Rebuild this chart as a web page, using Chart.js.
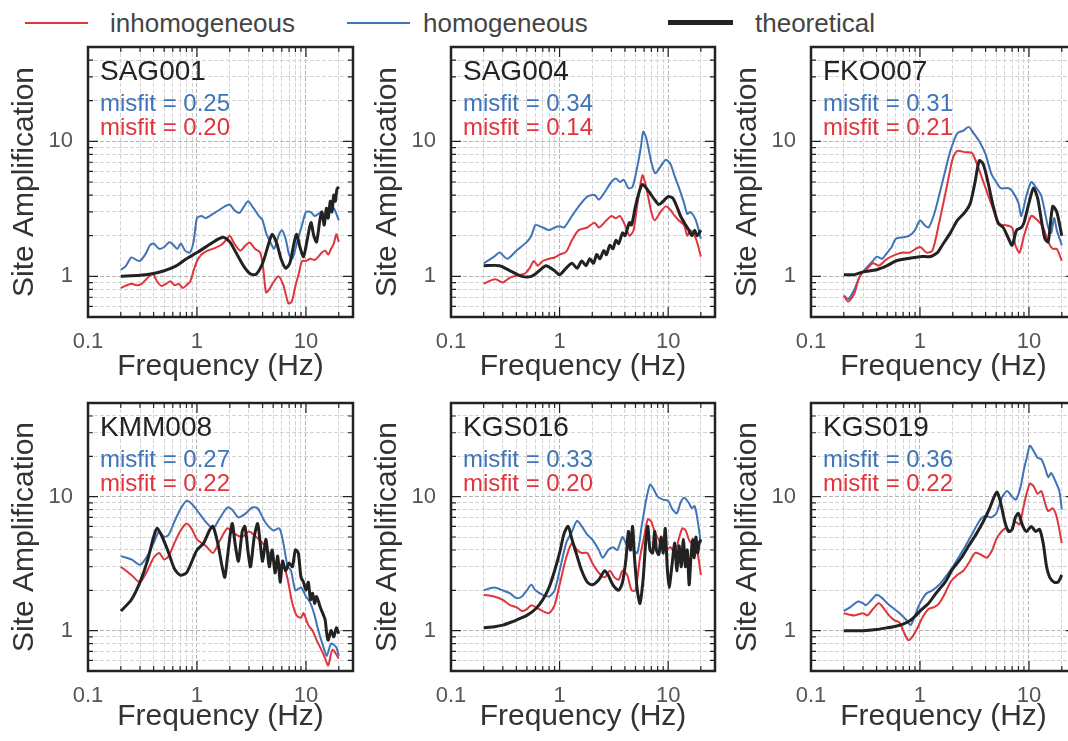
<!DOCTYPE html>
<html>
<head>
<meta charset="utf-8">
<script src="https://cdn.jsdelivr.net/npm/chart.js@4.4.1/dist/chart.umd.min.js"></script>
<style>
  body { margin: 0; background: #fff; width: 1068px; height: 741px; overflow: hidden; position: relative;
         font-family: "Liberation Sans", Arial, sans-serif; }
  canvas { position: absolute; }
  .lg-line { position: absolute; }
  .lg-text { position: absolute; top: 10px; font-size: 26px; line-height: 26px; color: #444; }
</style>
</head>
<body>
<div class="lg-line" style="left:25px;top:22px;width:63px;height:2px;background:#e0353d"></div>
<div class="lg-text" style="left:110px">inhomogeneous</div>
<div class="lg-line" style="left:347px;top:22px;width:63px;height:2px;background:#3f74b9"></div>
<div class="lg-text" style="left:423px">homogeneous</div>
<div class="lg-line" style="left:668px;top:20px;width:65px;height:5px;background:#222"></div>
<div class="lg-text" style="left:755px">theoretical</div>

<script>
// station names and misfit values (homogeneous = blue, inhomogeneous = red)
const stations = ['SAG001', 'SAG004', 'FKO007', 'KMM008', 'KGS016', 'KGS019'];
const misfitHomog = [0.25, 0.34, 0.31, 0.27, 0.33, 0.36];
const misfitInhomog = [0.20, 0.14, 0.21, 0.22, 0.20, 0.22];

// axis ticks
const xTickVals = [0.1,0.2,0.3,0.4,0.5,0.6,0.7,0.8,0.9,1,2,3,4,5,6,7,8,9,10,20];
const xTickLabels = [0.1, 1, 10];
const yTickVals = [0.5,0.6,0.7,0.8,0.9,1,2,3,4,5,6,7,8,9,10,20,30,40,50];
const yTickLabels = [1, 10];

// [frequency Hz, site amplification]
const sag001Inhom = [[0.2,0.82],[0.22,0.85],[0.25,0.88],[0.28,0.86],[0.31,0.88],[0.35,0.97],[0.39,1.05],[0.43,0.92],[0.47,0.85],[0.52,0.88],[0.57,0.92],[0.62,0.86],[0.68,0.88],[0.74,0.82],[0.8,0.86],[0.87,0.92],[0.93,1.1],[1.0,1.3],[1.1,1.45],[1.25,1.55],[1.45,1.62],[1.65,1.7],[1.85,1.85],[2.0,2.0],[2.2,1.75],[2.5,1.55],[2.8,1.7],[3.05,1.78],[3.4,1.6],[3.8,1.5],[4.05,1.15],[4.3,0.76],[4.6,0.8],[5.0,0.9],[5.6,1.0],[6.2,0.86],[6.9,0.63],[7.4,0.65],[8.0,0.85],[8.6,1.05],[9.2,1.3],[10,1.3],[11,1.35],[12,1.32],[13,1.4],[14,1.5],[15,1.55],[16,1.45],[17,1.6],[18,1.75],[19,2.05],[20,1.8]];
const sag001Homog = [[0.2,1.12],[0.22,1.18],[0.25,1.38],[0.28,1.32],[0.3,1.3],[0.34,1.48],[0.37,1.7],[0.4,1.75],[0.45,1.6],[0.5,1.65],[0.56,1.8],[0.61,1.7],[0.66,1.6],[0.71,1.75],[0.78,1.55],[0.86,1.5],[0.93,1.8],[1.0,2.7],[1.1,2.8],[1.2,2.7],[1.4,2.9],[1.6,3.1],[1.8,3.3],[2.0,3.4],[2.2,3.1],[2.45,2.95],[2.7,3.3],[2.95,3.6],[3.3,3.2],[3.7,2.8],[4.0,2.6],[4.3,2.1],[4.7,1.8],[5.1,1.6],[5.6,2.0],[6.0,2.2],[6.5,1.9],[7.0,1.45],[7.5,1.35],[8.0,1.6],[8.6,2.0],[9.2,2.4],[10,3.0],[11,3.0],[12,2.8],[13,2.9],[14,3.0],[15,2.7],[16,3.1],[17,3.0],[18,3.2],[19,2.9],[20,2.6]];
const sag001Theo = [[0.2,1.0],[0.3,1.02],[0.4,1.05],[0.5,1.1],[0.65,1.2],[0.8,1.35],[1.0,1.5],[1.3,1.72],[1.55,1.88],[1.75,1.95],[2.0,1.8],[2.3,1.48],[2.7,1.18],[3.1,1.04],[3.5,1.04],[4.0,1.25],[4.5,1.7],[4.9,2.05],[5.4,1.75],[5.9,1.35],[6.5,1.15],[7.1,1.25],[7.7,1.7],[8.2,2.05],[8.8,1.65],[9.5,1.4],[10.3,1.9],[11.1,2.5],[11.8,2.0],[12.5,1.8],[13.4,2.6],[14,3.0],[14.7,2.4],[15.4,3.2],[16,2.7],[16.7,3.6],[17.3,3.0],[18,4.0],[18.6,3.6],[19.2,4.4],[20,4.6]];

const sag004Inhom = [[0.2,0.88],[0.23,0.93],[0.26,0.95],[0.3,0.9],[0.35,0.98],[0.42,1.02],[0.48,1.05],[0.53,1.15],[0.58,1.3],[0.63,1.2],[0.7,1.3],[0.8,1.35],[0.9,1.38],[1.0,1.45],[1.15,1.52],[1.3,1.85],[1.5,2.2],[1.8,2.3],[2.1,2.5],[2.3,2.3],[2.7,2.6],[3.0,2.8],[3.3,2.7],[3.6,2.8],[4.0,2.4],[4.4,2.0],[4.8,2.2],[5.2,3.4],[5.8,5.6],[6.3,4.5],[7.0,3.0],[7.5,2.6],[8.5,3.0],[9.5,3.3],[10.5,3.1],[11.5,2.8],[12.5,2.6],[14,2.4],[15,2.0],[16,2.2],[18,1.9],[20,1.4]];
const sag004Homog = [[0.2,1.25],[0.25,1.4],[0.28,1.5],[0.33,1.35],[0.4,1.55],[0.5,1.8],[0.55,2.0],[0.6,2.4],[0.7,2.3],[0.8,2.2],[0.9,2.3],[1.0,2.35],[1.1,2.3],[1.3,2.8],[1.5,3.3],[1.8,3.9],[2.1,4.0],[2.3,3.7],[2.6,4.2],[3.0,5.0],[3.3,5.3],[3.6,5.0],[3.9,5.2],[4.3,4.5],[4.7,4.6],[5.2,6.5],[5.6,9.0],[5.9,11.8],[6.3,10.5],[7.0,7.0],[7.6,5.8],[8.5,6.5],[9.5,7.3],[10.5,6.8],[11.5,5.5],[12.5,4.6],[14,3.5],[15,2.9],[16,3.0],[18,2.6],[20,1.9]];
const sag004Theo = [[0.2,1.2],[0.28,1.2],[0.35,1.1],[0.45,1.0],[0.55,1.0],[0.65,1.1],[0.75,1.2],[0.9,1.1],[1.0,1.03],[1.15,1.15],[1.3,1.25],[1.45,1.15],[1.6,1.3],[1.75,1.2],[1.9,1.35],[2.05,1.25],[2.2,1.45],[2.35,1.35],[2.55,1.55],[2.7,1.45],[2.9,1.7],[3.1,1.6],[3.3,1.85],[3.5,1.75],[3.8,2.1],[4.0,2.0],[4.4,2.5],[4.6,2.4],[5.0,3.3],[5.4,4.2],[5.8,4.8],[6.3,4.5],[7,4.0],[7.5,3.7],[8.2,3.4],[9,3.6],[10,3.9],[11,3.8],[12,3.3],[13,2.8],[14.5,2.4],[15.5,2.2],[16.5,2.0],[17.5,2.2],[18.5,2.0],[20,2.2]];

const fko007Inhom = [[0.2,0.72],[0.22,0.65],[0.25,0.75],[0.28,1.0],[0.33,1.15],[0.37,1.25],[0.42,1.2],[0.5,1.35],[0.6,1.45],[0.7,1.5],[0.8,1.5],[1.0,1.65],[1.15,1.5],[1.3,1.55],[1.5,2.5],[1.75,4.5],[2.0,7.5],[2.2,8.5],[2.6,8.3],[3.0,8.2],[3.4,6.5],[4.0,4.5],[4.8,3.0],[5.3,2.4],[6,2.4],[7,2.3],[7.5,1.7],[8.2,1.5],[9,2.0],[10.5,2.8],[12,2.6],[13.5,2.3],[15,1.8],[16.5,1.6],[18,1.6],[20,1.3]];
const fko007Homog = [[0.2,0.72],[0.22,0.68],[0.25,0.8],[0.28,1.0],[0.32,1.15],[0.37,1.3],[0.4,1.4],[0.45,1.35],[0.5,1.5],[0.55,1.65],[0.6,1.9],[0.7,1.95],[0.8,2.0],[0.9,2.2],[1.0,2.6],[1.1,2.4],[1.2,2.3],[1.35,2.9],[1.5,4.0],[1.7,6.0],[1.9,8.5],[2.2,11.5],[2.5,12.0],[2.8,12.8],[3.1,11.5],[3.5,10.0],[4.0,8.0],[4.5,5.8],[5.0,5.0],[5.5,4.5],[6.5,4.5],[7,4.3],[8,3.5],[8.5,2.8],[9.5,4.0],[10.5,5.0],[11.5,4.6],[12.9,4.0],[14,3.0],[15,2.3],[16,2.1],[17,2.7],[18,2.2],[20,1.7]];
const fko007Theo = [[0.2,1.03],[0.25,1.03],[0.3,1.08],[0.4,1.12],[0.5,1.2],[0.6,1.3],[0.75,1.35],[1.0,1.4],[1.2,1.4],[1.3,1.42],[1.45,1.5],[1.6,1.7],[1.9,2.1],[2.2,2.6],[2.6,3.0],[2.9,3.5],[3.2,5.0],[3.5,7.2],[3.8,6.8],[4.2,5.0],[4.7,3.3],[5.2,2.5],[5.8,2.3],[6.5,1.9],[7,1.7],[7.7,2.2],[8.5,2.3],[9,2.5],[10,3.5],[11,4.5],[12,3.8],[13,2.6],[14,1.9],[15,1.8],[16.5,3.3],[18,3.0],[20,2.0]];

const kmm008Inhom = [[0.2,3.0],[0.25,2.6],[0.3,2.3],[0.35,2.8],[0.4,3.5],[0.45,3.8],[0.5,3.4],[0.55,3.6],[0.62,4.5],[0.7,5.5],[0.8,6.3],[0.9,5.7],[1.0,4.8],[1.2,4.3],[1.4,3.8],[1.6,4.6],[1.9,5.8],[2.2,5.3],[2.6,5.0],[3.0,5.5],[3.5,5.0],[4.0,4.5],[4.6,3.8],[5.2,3.2],[5.8,3.1],[6.3,3.0],[6.8,2.4],[7.5,1.6],[8.2,1.3],[9,1.25],[9.5,1.35],[10.5,1.1],[11.5,1.0],[12.5,0.85],[13.5,0.75],[15,0.62],[16,0.55],[17.5,0.72],[20,0.62]];
const kmm008Homog = [[0.2,3.6],[0.25,3.4],[0.3,3.1],[0.35,3.6],[0.4,4.5],[0.45,5.5],[0.5,5.0],[0.55,5.2],[0.62,6.5],[0.7,8.0],[0.8,9.3],[0.9,8.8],[1.05,7.5],[1.2,6.5],[1.4,5.8],[1.6,6.8],[1.9,8.3],[2.1,8.0],[2.4,7.0],[2.8,7.5],[3.2,8.3],[3.6,8.2],[4.2,6.5],[5,5.6],[5.7,5.8],[6.2,4.5],[6.8,3.0],[7.3,2.8],[8,2.0],[9,2.1],[10,1.8],[11,1.6],[12,1.3],[13,1.0],[14.5,0.75],[15.5,0.65],[17,0.8],[19,0.75],[20,0.65]];
const kmm008Theo = [[0.2,1.4],[0.25,1.7],[0.3,2.3],[0.35,3.3],[0.4,5.0],[0.43,5.8],[0.48,5.0],[0.55,3.8],[0.62,2.9],[0.7,2.6],[0.8,2.7],[0.9,3.3],[1.0,4.0],[1.15,4.5],[1.3,5.6],[1.4,6.0],[1.55,4.5],[1.7,3.0],[1.8,2.5],[1.9,3.5],[2.1,6.3],[2.25,4.3],[2.4,3.3],[2.6,5.5],[2.75,6.0],[2.95,3.8],[3.1,3.0],[3.35,5.0],[3.6,6.3],[3.8,4.5],[4.0,3.3],[4.3,4.8],[4.6,3.0],[4.9,4.0],[5.2,2.7],[5.5,3.6],[5.8,2.3],[6.1,3.3],[6.5,2.8],[7,3.2],[7.5,3.0],[8.0,4.0],[8.5,3.8],[9,2.5],[9.5,2.3],[10,2.0],[10.5,2.3],[11,1.7],[11.5,1.9],[12,1.6],[12.5,1.8],[13.5,1.5],[14.5,1.3],[15,1.2],[15.5,0.95],[16,0.85],[17,1.0],[18,0.9],[19,1.05],[20,0.95]];

const kgs016Inhom = [[0.2,1.85],[0.25,1.8],[0.3,1.7],[0.35,1.55],[0.4,1.5],[0.45,1.4],[0.5,1.45],[0.55,1.55],[0.6,1.5],[0.7,1.4],[0.8,1.35],[0.9,1.55],[1.0,2.2],[1.15,3.5],[1.3,4.5],[1.45,4.0],[1.6,3.8],[1.8,3.8],[2.0,3.2],[2.3,2.7],[2.6,2.5],[2.9,2.8],[3.2,2.5],[3.5,2.4],[3.8,2.8],[4.2,2.6],[4.6,2.0],[5.0,2.0],[5.5,3.5],[6,5.0],[6.5,6.8],[7,6.5],[7.5,5.5],[8.5,4.5],[9.5,4.0],[10.5,4.2],[11.5,3.8],[12.5,4.8],[13.5,5.8],[14.5,5.6],[15.5,4.8],[16.5,4.5],[17.5,4.8],[19,3.5],[20,2.6]];
const kgs016Homog = [[0.2,2.0],[0.25,2.1],[0.3,2.0],[0.35,1.9],[0.4,1.75],[0.45,1.8],[0.5,2.0],[0.55,2.2],[0.6,2.0],[0.7,1.85],[0.8,1.8],[0.9,2.0],[1.0,2.8],[1.15,4.5],[1.3,5.5],[1.45,6.6],[1.6,6.0],[1.8,5.2],[2.0,4.8],[2.3,4.0],[2.5,3.5],[2.8,4.0],[3.1,4.2],[3.4,4.0],[3.8,5.0],[4.2,4.3],[4.7,4.0],[5.2,3.8],[5.7,6.0],[6.2,9.0],[6.8,12.3],[7.3,11.5],[8.0,10.0],[9.0,9.5],[10,9.3],[11,8.0],[12,7.5],[13,9.0],[14,9.8],[15.5,9.0],[16.5,8.2],[17.5,8.5],[18.5,7.0],[20,4.5]];
const kgs016Theo = [[0.2,1.05],[0.25,1.07],[0.3,1.1],[0.35,1.15],[0.4,1.2],[0.5,1.3],[0.6,1.45],[0.7,1.7],[0.8,2.1],[0.9,2.8],[1.0,3.8],[1.1,5.3],[1.2,6.0],[1.3,4.8],[1.45,3.6],[1.6,2.8],[1.8,2.3],[2.0,2.2],[2.3,2.4],[2.6,2.8],[2.8,2.6],[3.1,2.2],[3.5,2.0],[3.8,2.3],[4.1,3.5],[4.3,5.5],[4.5,4.0],[4.7,6.0],[4.9,3.5],[5.2,2.0],[5.5,1.6],[5.9,2.5],[6.2,4.5],[6.5,6.0],[6.8,4.0],[7.2,3.8],[7.5,5.5],[7.8,4.0],[8.2,3.7],[8.6,5.0],[9.0,3.8],[9.4,5.8],[9.8,3.0],[10.2,2.1],[10.8,3.0],[11.5,4.5],[12,2.8],[12.6,4.3],[13.2,3.0],[13.8,4.8],[14.4,3.0],[15,4.0],[15.6,2.2],[16.2,3.5],[16.8,4.8],[17.4,3.5],[18,5.0],[18.7,3.8],[19.3,4.5],[20,4.8]];

const kgs019Inhom = [[0.2,1.35],[0.25,1.3],[0.3,1.35],[0.33,1.3],[0.37,1.45],[0.42,1.6],[0.47,1.45],[0.52,1.3],[0.58,1.2],[0.65,1.15],[0.7,1.0],[0.78,0.85],[0.85,0.9],[0.95,1.05],[1.05,1.25],[1.2,1.45],[1.35,1.5],[1.5,1.6],[1.7,1.9],[1.9,2.3],[2.2,2.6],[2.5,2.8],[2.8,3.2],[3.2,3.8],[3.6,3.7],[4.1,3.5],[4.6,4.0],[5.0,4.8],[5.6,5.5],[6.2,5.8],[6.8,5.5],[7.5,6.5],[8.2,6.2],[8.8,8.0],[9.5,10.5],[10.2,12.5],[11,12.0],[12,10.5],[13,11.0],[14,9.0],[15,7.8],[16.5,8.2],[18,7.0],[20,4.5]];
const kgs019Homog = [[0.2,1.4],[0.23,1.5],[0.27,1.65],[0.3,1.6],[0.32,1.55],[0.36,1.7],[0.4,1.85],[0.45,1.75],[0.5,1.6],[0.55,1.5],[0.65,1.35],[0.75,1.2],[0.82,1.1],[0.9,1.3],[1.0,1.6],[1.15,1.9],[1.3,2.0],[1.5,2.2],[1.7,2.5],[2.0,3.0],[2.3,3.6],[2.7,4.5],[3.1,5.5],[3.6,6.8],[4.0,7.2],[4.5,7.0],[5.0,7.5],[5.7,10.0],[6.3,11.0],[7.0,10.0],[7.6,9.5],[8.3,11.5],[9.0,16],[9.6,20],[10.2,24],[11,22],[12,19.5],[13,19],[14,16.5],[15,14],[16,15],[17.5,13],[19,11],[20,8]];
const kgs019Theo = [[0.2,1.0],[0.3,1.0],[0.4,1.02],[0.5,1.05],[0.6,1.08],[0.7,1.12],[0.8,1.18],[0.9,1.28],[1.0,1.4],[1.2,1.6],[1.4,1.9],[1.7,2.3],[2.0,2.9],[2.4,3.5],[2.8,4.3],[3.3,5.3],[3.8,6.5],[4.3,8.0],[4.8,10.0],[5.1,10.8],[5.5,9.0],[6.0,6.5],[6.5,5.5],[7.0,5.7],[7.5,7.0],[8.0,7.5],[8.8,6.0],[9.5,5.5],[10.5,6.0],[11.5,5.5],[12.5,5.7],[13.5,4.5],[14.5,3.0],[15.5,2.5],[17,2.3],[18.5,2.3],[20,2.6]];

const inhomSeries = [sag001Inhom, sag004Inhom, fko007Inhom, kmm008Inhom, kgs016Inhom, kgs019Inhom];
const homogSeries = [sag001Homog, sag004Homog, fko007Homog, kmm008Homog, kgs016Homog, kgs019Homog];
const theoSeries = [sag001Theo, sag004Theo, fko007Theo, kmm008Theo, kgs016Theo, kgs019Theo];

// plot-area boxes on the page
const boxes = [
  {l: 88,  t: 47,  r: 353,  b: 317, axisH: 70},
  {l: 451, t: 47,  r: 715,  b: 317, axisH: 70},
  {l: 811, t: 47,  r: 1076, b: 317, axisH: 70},
  {l: 88,  t: 403, r: 353,  b: 671, axisH: 66},
  {l: 451, t: 403, r: 715,  b: 671, axisH: 66},
  {l: 811, t: 403, r: 1076, b: 671, axisH: 66}
];
// y tick padding (15) + half of the 2px line of unlabelled ticks = 16 px above the plot
const YAXIS_W = 88, PAD_T = 16, PAD_R = 8;

const RED = '#e0353d', BLUE = '#3f74b9', BLACK = '#222';
const FONT = '"Liberation Sans", Arial, sans-serif';
Chart.defaults.font.family = FONT;

const toXY = arr => arr.map(p => ({x: p[0], y: p[1]}));

// frame, inner tick marks and the station / misfit labels
const panelDecor = {
  id: 'panelDecor',
  afterDatasetsDraw(chart, args, opts) {
    const {ctx, chartArea: a} = chart;
    const xs = chart.scales.x, ys = chart.scales.y;
    ctx.save();
    ctx.strokeStyle = '#222';
    ctx.lineWidth = 1.2;
    ctx.beginPath();
    xTickVals.forEach(v => {
      const px = xs.getPixelForValue(v);
      const len = xTickLabels.includes(v) ? 10 : 5;
      ctx.moveTo(px, a.bottom); ctx.lineTo(px, a.bottom - len);
      ctx.moveTo(px, a.top); ctx.lineTo(px, a.top + len);
    });
    yTickVals.forEach(v => {
      const py = ys.getPixelForValue(v);
      const len = yTickLabels.includes(v) ? 10 : 5;
      ctx.moveTo(a.left, py); ctx.lineTo(a.left + len, py);
      ctx.moveTo(a.right, py); ctx.lineTo(a.right - len, py);
    });
    ctx.stroke();
    ctx.lineWidth = 2.5;
    ctx.strokeRect(a.left, a.top, a.right - a.left, a.bottom - a.top);

    ctx.textAlign = 'left';
    ctx.textBaseline = 'middle';
    ctx.font = '28px ' + FONT;
    ctx.fillStyle = '#222';
    ctx.fillText(opts.station, a.left + 12, a.top + 25);
    ctx.font = '24px ' + FONT;
    ctx.fillStyle = BLUE;
    ctx.fillText('misfit = ' + opts.misfitH.toFixed(2), a.left + 12, a.top + 57);
    ctx.fillStyle = RED;
    ctx.fillText('misfit = ' + opts.misfitI.toFixed(2), a.left + 12, a.top + 81);
    ctx.restore();
  }
};

const gridColor = c => (c.tick && [1, 10].includes(c.tick.value)) ? '#b5b5b5' : '#d4d4d4';
// unlabelled ticks get a tiny font so they do not push the plot area around
const tickFont = labels => c => (c.tick && labels.includes(c.tick.value)) ? {size: 22} : {size: 2, lineHeight: 1};

function makePanel(i) {
  const box = boxes[i];
  const cv = document.createElement('canvas');
  cv.width = YAXIS_W + (box.r - box.l) + PAD_R;
  cv.height = PAD_T + (box.b - box.t) + box.axisH;
  cv.style.left = (box.l - YAXIS_W) + 'px';
  cv.style.top = (box.t - PAD_T) + 'px';
  document.body.appendChild(cv);

  new Chart(cv, {
    type: 'line',
    data: {
      datasets: [
        {label: 'theoretical', data: toXY(theoSeries[i]), borderColor: BLACK, borderWidth: 3, order: 0},
        {label: 'inhomogeneous', data: toXY(inhomSeries[i]), borderColor: RED, borderWidth: 2, order: 1},
        {label: 'homogeneous', data: toXY(homogSeries[i]), borderColor: BLUE, borderWidth: 2, order: 2}
      ]
    },
    options: {
      responsive: false,
      animation: false,
      elements: { point: { radius: 0 }, line: { tension: 0.25, fill: false } },
      layout: { padding: { top: PAD_T, right: PAD_R, left: 0, bottom: 0 } },
      plugins: {
        legend: { display: false },
        tooltip: { enabled: false },
        panelDecor: { station: stations[i], misfitH: misfitHomog[i], misfitI: misfitInhomog[i] }
      },
      scales: {
        x: {
          type: 'logarithmic', min: 0.1, max: 27,
          afterBuildTicks: s => { s.ticks = xTickVals.map(v => ({value: v})); },
          afterFit: s => { s.height = box.axisH; },
          ticks: {
            autoSkip: false, maxRotation: 0, padding: 12, color: '#555', font: tickFont(xTickLabels),
            callback: v => xTickLabels.includes(v) ? String(v) : ''
          },
          grid: { drawTicks: false, color: gridColor, lineWidth: 1 },
          border: { display: false, dash: [4, 2] },
          title: { display: true, text: 'Frequency (Hz)', color: '#333', font: {size: 30}, padding: {top: 0, bottom: 2} }
        },
        y: {
          type: 'logarithmic', min: 0.5, max: 50,
          afterBuildTicks: s => { s.ticks = yTickVals.map(v => ({value: v})); },
          afterFit: s => { s.width = YAXIS_W; },
          ticks: {
            autoSkip: false, padding: 15, color: '#555', font: tickFont(yTickLabels),
            callback: v => yTickLabels.includes(v) ? String(v) : ''
          },
          grid: { drawTicks: false, color: gridColor, lineWidth: 1 },
          border: { display: false, dash: [4, 2] },
          title: { display: true, text: 'Site Amplification', color: '#333', font: {size: 30}, padding: {top: 7, bottom: 0} }
        }
      }
    },
    plugins: [panelDecor]
  });
}

stations.forEach((s, i) => makePanel(i));
</script>
</body>
</html>
